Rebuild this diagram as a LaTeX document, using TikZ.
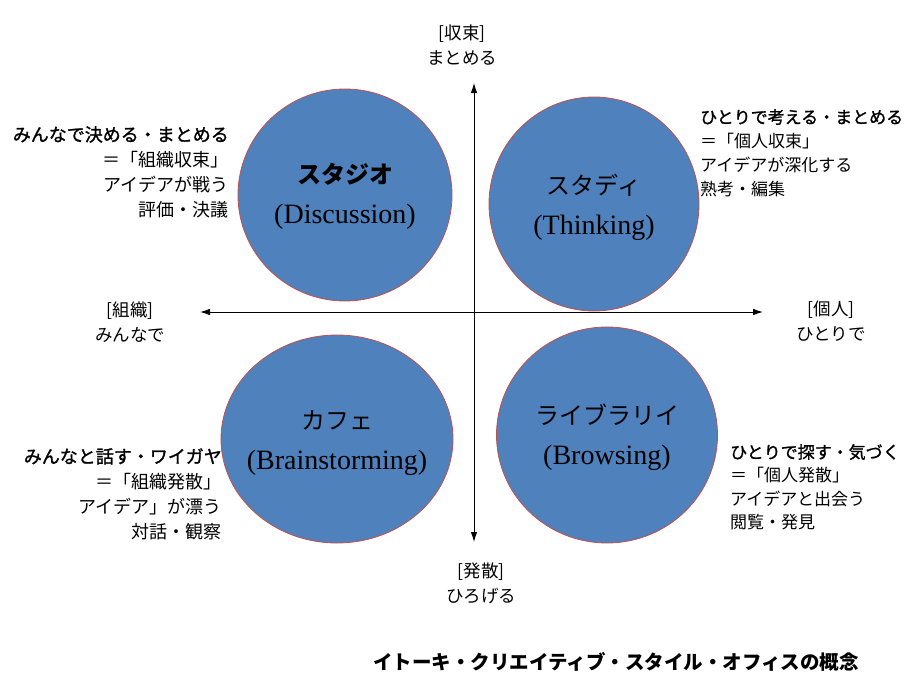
\documentclass[tikz,border=0pt]{standalone}
\usepackage{fontspec}
\setmainfont{Liberation Serif}
\newfontfamily\jp{Noto Sans CJK JP}
\newfontfamily\jpsemi[FakeBold=1.3]{Noto Sans CJK JP}
\usetikzlibrary{arrows.meta,shapes.geometric}

\definecolor{roomblue}{RGB}{79,129,189}
\definecolor{roomedge}{RGB}{192,80,77}

\begin{document}
\begin{tikzpicture}[
  x=1pt, y=-1pt,
  room/.style={ellipse, draw=roomedge, line width=0.8pt, fill=roomblue, inner sep=0pt},
  roomname/.style={align=center, inner sep=0pt, font=\fontsize{28}{40}\selectfont},
  axis/.style={{Latex[length=10pt,width=6.5pt]}-{Latex[length=10pt,width=6.5pt]}, line width=0.9pt},
  pole/.style={align=center, inner sep=0pt, font=\jp\fontsize{17.5}{25}\selectfont},
  note/.style={inner sep=0pt, font=\jp\fontsize{18}{25}\selectfont}
]
  \useasboundingbox[fill=white] (0,0) rectangle (919,680);

  % axes
  \coordinate (top) at (474,83);
  \coordinate (bottom) at (474,542);
  \coordinate (left) at (200,312);
  \coordinate (right) at (763,312);
  \draw[axis] (bottom) -- (top);
  \draw[axis] (left) -- (right);

  \node[pole] (converge) at (462,45) {[収束]\\まとめる};
  \node[pole] (diverge) at (481,583) {[発散]\\ひろげる};
  \node[pole] (group) at (130,322) {[組織]\\みんなで};
  \node[pole] (single) at (831,321) {[個人]\\ひとりで};

  % four rooms
  \node[room, minimum width=214pt, minimum height=212pt] (studio) at (345,195) {};
  \node[room, minimum width=210pt, minimum height=214pt] (study) at (594,204) {};
  \node[room, minimum width=232pt, minimum height=208pt] (cafe) at (337,439) {};
  \node[room, minimum width=221pt, minimum height=216pt] (library) at (607,435) {};

  \node[roomname] (studio name) at (345,196) {{\jp\bfseries\fontsize{24}{40}\selectfont スタジオ}\\(Discussion)};
  \node[roomname] (study name) at (594,207) {{\jp\fontsize{24}{40}\selectfont スタディ}\\(Thinking)};
  \node[roomname] (cafe name) at (337,443) {{\jp\fontsize{24}{40}\selectfont カフェ}\\(Brainstorming)};
  \node[roomname] (library name) at (607,437) {{\jp\fontsize{24}{40}\selectfont ライブラリイ}\\(Browsing)};

  % notes
  \node[note, align=right, anchor=east] (studio note) at (229,172)
    {{\jpsemi みんなで決める・まとめる}\\＝「組織収束」\\アイデアが戦う\\評価・決議};
  \node[note, align=left, anchor=west, font=\jp\fontsize{17}{24}\selectfont] (study note) at (700,153)
    {{\jpsemi ひとりで考える・まとめる}\\＝「個人収束」\\アイデアが深化する\\熟考・編集};
  \node[note, align=right, anchor=east] (cafe note) at (222,494)
    {{\jpsemi みんなと話す・ワイガヤ}\\＝「組織発散」\\アイデア」が漂う\\対話・観察};
  \node[note, align=left, anchor=west, font=\jp\fontsize{17}{23.3}\selectfont] (library note) at (730,487)
    {{\jpsemi ひとりで探す・気づく}\\＝「個人発散」\\アイデアと出会う\\閲覧・発見};

  \node[inner sep=0pt, font=\jp\bfseries\fontsize{19.5}{24}\selectfont] (title) at (616,662)
    {イトーキ・クリエイティブ・スタイル・オフィスの概念};
\end{tikzpicture}
\end{document}
